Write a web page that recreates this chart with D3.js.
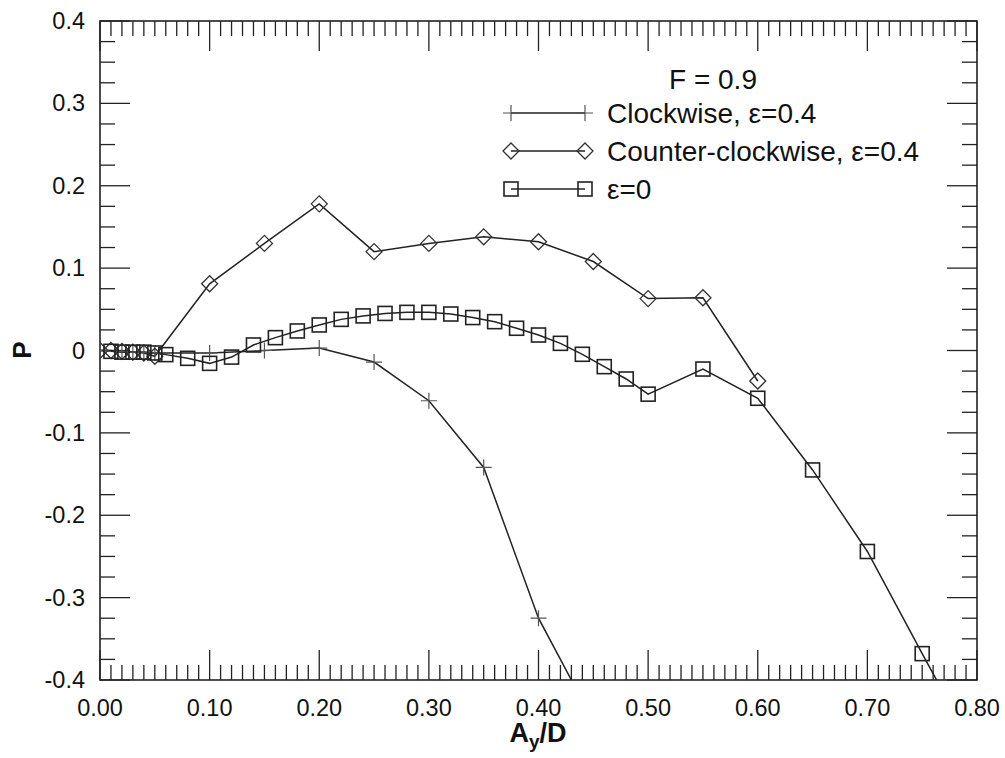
<!DOCTYPE html>
<html><head><meta charset="utf-8">
<script src="https://cdn.jsdelivr.net/npm/d3@7"></script>
<style>body{margin:0;background:#fff}svg{display:block}text{font-family:"Liberation Sans",Arial,sans-serif;fill:#111}</style>
</head><body>
<svg id="c" width="1005" height="758"></svg>
<script>
// Data
const cwX  = [0, 0.02, 0.03, 0.04, 0.05, 0.10, 0.15, 0.20, 0.25, 0.30, 0.35, 0.40, 0.45];
const cwY  = [0, -0.001, -0.002, -0.002, -0.003, -0.003, 0.000, 0.003, -0.014, -0.061, -0.142, -0.325, -0.45];
const ccwX = [0, 0.01, 0.02, 0.03, 0.04, 0.05, 0.10, 0.15, 0.20, 0.25, 0.30, 0.35, 0.40, 0.45, 0.50, 0.55, 0.60];
const ccwY = [0, 0, -0.001, -0.002, -0.003, -0.007, 0.081, 0.130, 0.178, 0.120, 0.130, 0.138, 0.132, 0.108, 0.063, 0.064, -0.037];
const sqX  = [0.01, 0.02, 0.03, 0.04, 0.05, 0.06, 0.08, 0.10, 0.12, 0.14, 0.16, 0.18, 0.20, 0.22, 0.24, 0.26, 0.28, 0.30, 0.32, 0.34, 0.36, 0.38, 0.40, 0.42, 0.44, 0.46, 0.48, 0.50, 0.55, 0.60, 0.65, 0.70, 0.75, 0.80];
const sqY  = [-0.001, -0.002, -0.002, -0.002, -0.003, -0.005, -0.0095, -0.0156, -0.008, 0.0067, 0.0156, 0.0237, 0.031, 0.0378, 0.042, 0.045, 0.0463, 0.0463, 0.0443, 0.040, 0.035, 0.027, 0.0188, 0.0087, -0.0046, -0.0196, -0.0346, -0.053, -0.0225, -0.058, -0.145, -0.244, -0.368, -0.49];
const xTicks = [0, 0.1, 0.2, 0.3, 0.4, 0.5, 0.6, 0.7, 0.8];
const xTickLabels = ["0.00", "0.10", "0.20", "0.30", "0.40", "0.50", "0.60", "0.70", "0.80"];
const yTicks = [-0.4, -0.3, -0.2, -0.1, 0, 0.1, 0.2, 0.3, 0.4];
const yTickLabels = ["-0.4", "-0.3", "-0.2", "-0.1", "0", "0.1", "0.2", "0.3", "0.4"];
const legendTitle = "F = 0.9";
const seriesNames = ["Clockwise, ε=0.4", "Counter-clockwise, ε=0.4", "ε=0"];

const L = 100, R = 977, T = 21, B = 680;
const svg = d3.select("#c");
const x = d3.scaleLinear().domain([0, 0.8]).range([L, R]);
const y = d3.scaleLinear().domain([-0.4, 0.4]).range([B, T]);
const ink = "#222";

svg.append("defs").append("clipPath").attr("id","clip")
  .append("rect").attr("x",L).attr("y",T).attr("width",R-L).attr("height",B-T);

// ticks
const xMinor = d3.range(0, 81).map(i => i/100);
const yMinor = d3.range(0, 33).map(i => -0.4 + i*0.025);
const tg = svg.append("g").attr("stroke", ink).attr("stroke-width", 1.3);
xMinor.forEach(v => {
  const major = Math.abs(v*10 - Math.round(v*10)) < 1e-6;
  const len = major ? 30 : 15;
  tg.append("line").attr("x1",x(v)).attr("x2",x(v)).attr("y1",B).attr("y2",B-len);
  tg.append("line").attr("x1",x(v)).attr("x2",x(v)).attr("y1",T).attr("y2",T+len);
});
yMinor.forEach(v => {
  const major = Math.abs(v*10 - Math.round(v*10)) < 1e-6;
  const len = major ? 30 : 15;
  tg.append("line").attr("y1",y(v)).attr("y2",y(v)).attr("x1",L).attr("x2",L+len);
  tg.append("line").attr("y1",y(v)).attr("y2",y(v)).attr("x1",R).attr("x2",R-len);
});
svg.append("rect").attr("x",L).attr("y",T).attr("width",R-L).attr("height",B-T)
  .attr("fill","none").attr("stroke",ink).attr("stroke-width",1.6);

// tick labels
svg.append("g").selectAll("text").data(xTicks).join("text")
  .attr("x", d => x(d)).attr("y", B+36).attr("text-anchor","middle")
  .attr("font-size", 23.5).text((d,i) => xTickLabels[i]);
svg.append("g").selectAll("text").data(yTicks).join("text")
  .attr("x", L-15).attr("y", d => y(d)+8).attr("text-anchor","end")
  .attr("font-size", 23.5).text((d,i) => yTickLabels[i]);

// axis titles
const xt = svg.append("text").attr("x", 538).attr("y", 742).attr("text-anchor","middle")
  .attr("font-size", 27).attr("font-weight","bold");
xt.append("tspan").text("A");
xt.append("tspan").attr("font-size",19).attr("dy",6).text("y");
xt.append("tspan").attr("dy",-6).text("/D");
svg.append("text").attr("transform","translate(31,350) rotate(-90)").attr("text-anchor","middle")
  .attr("font-size", 26).attr("font-weight","bold").text("P");

// series
const line = d3.line().x(d => x(d[0])).y(d => y(d[1]));
const cw = cwX.map((v,i) => [v, cwY[i]]);
const ccw = ccwX.map((v,i) => [v, ccwY[i]]);
const sq = sqX.map((v,i) => [v, sqY[i]]);
const plot = svg.append("g").attr("clip-path","url(#clip)");
[cw, ccw, sq].forEach(s => plot.append("path").attr("d", line(s))
  .attr("fill","none").attr("stroke",ink).attr("stroke-width",1.5));

function plus(g, cx, cy) {
  g.append("path").attr("d", `M${cx-8},${cy}H${cx+8}M${cx},${cy-8}V${cy+8}`)
    .attr("stroke","#555").attr("stroke-width",1.2).attr("fill","none");
}
function diamond(g, cx, cy) {
  g.append("path").attr("d", `M${cx-8},${cy}L${cx},${cy-8}L${cx+8},${cy}L${cx},${cy+8}Z`)
    .attr("stroke","#333").attr("stroke-width",1.3).attr("fill","none");
}
function square(g, cx, cy) {
  g.append("rect").attr("x",cx-7).attr("y",cy-7).attr("width",14).attr("height",14)
    .attr("stroke","#222").attr("stroke-width",1.6).attr("fill","none");
}
cw.forEach(d => plus(plot, x(d[0]), y(d[1])));
ccw.forEach(d => diamond(plot, x(d[0]), y(d[1])));
sq.forEach(d => square(plot, x(d[0]), y(d[1])));

// legend
const lg = svg.append("g");
lg.append("text").attr("x", 713).attr("y", 89).attr("text-anchor","middle").attr("font-size",28).text(legendTitle);
const rows = [113, 151, 189];
const marks = [plus, diamond, square];
rows.forEach((ry, i) => {
  lg.append("line").attr("x1",511).attr("x2",585).attr("y1",ry).attr("y2",ry).attr("stroke",ink).attr("stroke-width",1.5);
  marks[i](lg, 511, ry); marks[i](lg, 585, ry);
  lg.append("text").attr("x",607).attr("y",ry+10).attr("font-size",28).text(seriesNames[i]);
});
</script>
</body></html>
